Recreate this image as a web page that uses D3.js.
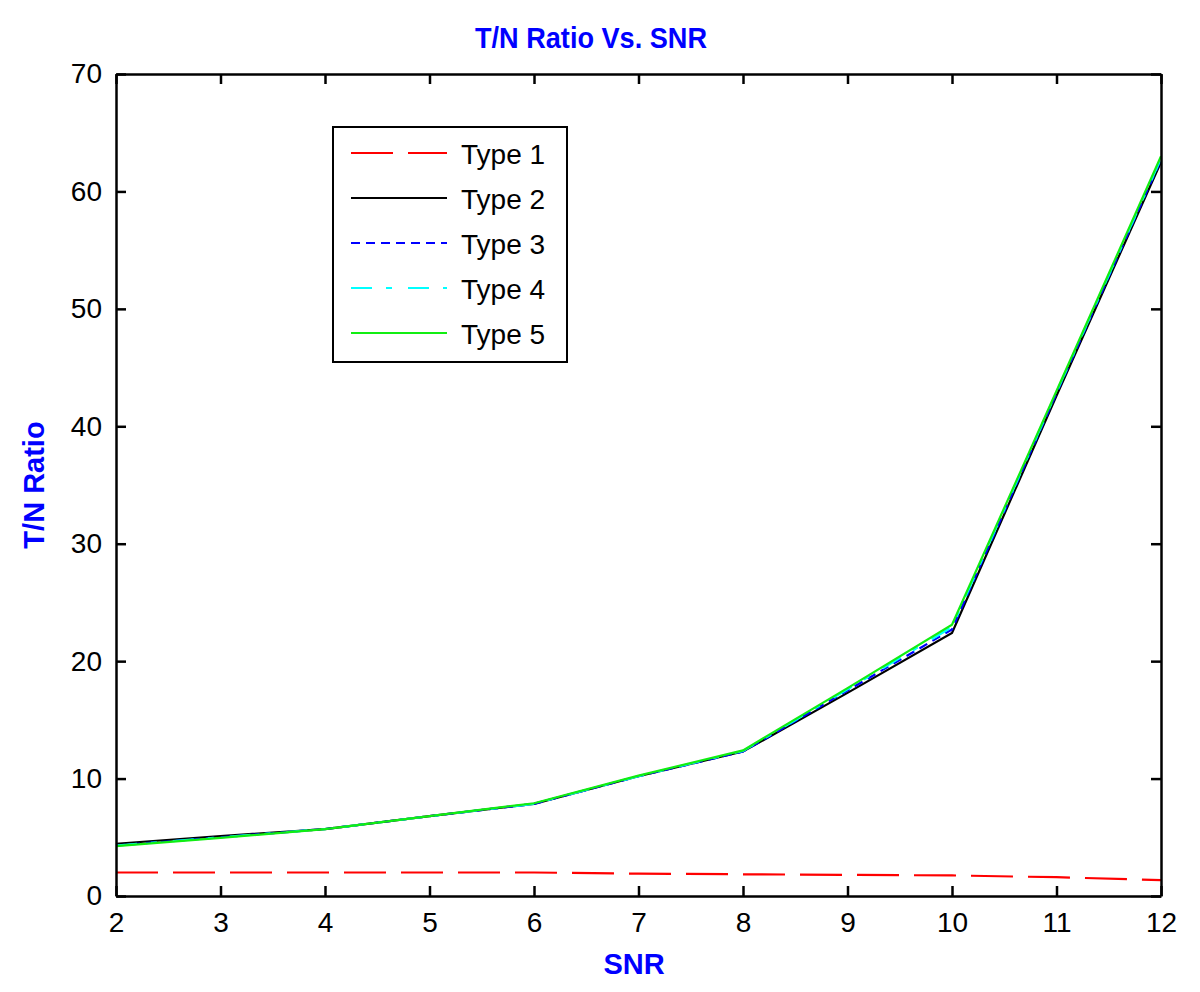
<!DOCTYPE html>
<html>
<head>
<meta charset="utf-8">
<script src="https://cdn.jsdelivr.net/npm/d3@7"></script>
<style>
  body { margin: 0; background: #fff; }
  text { font-family: "Liberation Sans", Arial, sans-serif; }
</style>
</head>
<body>
<svg width="1200" height="992"></svg>
<script>
const snr = [2, 3, 4, 5, 6, 7, 8, 9, 10, 11, 12];
const type1 = [2.0, 2.0, 2.0, 2.0, 2.0, 1.9, 1.85, 1.8, 1.75, 1.6, 1.35];
const type2 = [4.45, 5.1, 5.7, 6.8, 7.85, 10.2, 12.3, 17.3, 22.4, 42.6, 62.5];
const type3 = [4.3, 5.0, 5.7, 6.8, 7.85, 10.2, 12.3, 17.5, 22.7, 42.8, 62.7];
const type4 = [4.3, 5.0, 5.7, 6.8, 7.85, 10.2, 12.35, 17.6, 22.9, 42.9, 62.8];
const type5 = [4.25, 4.95, 5.7, 6.8, 7.9, 10.25, 12.4, 17.7, 23.1, 43.0, 63.0];
const seriesNames = ['Type 1', 'Type 2', 'Type 3', 'Type 4', 'Type 5'];
const xTicks = [2, 3, 4, 5, 6, 7, 8, 9, 10, 11, 12];
const yTicks = [0, 10, 20, 30, 40, 50, 60, 70];

const styles = [
  { color: '#ff0000', dash: '42,15' },
  { color: '#000000', dash: null },
  { color: '#0000ff', dash: '9,6' },
  { color: '#00ffff', dash: '21,14,6,16' },
  { color: '#11ee11', dash: null }
];

const series = [type1, type2, type3, type4, type5].map((vals, i) => ({
  name: seriesNames[i],
  style: styles[i],
  points: snr.map((s, j) => [s, vals[j]])
}));

const margin = { left: 116, right: 39, top: 74, bottom: 96 };
const width = 1200, height = 992;

const x = d3.scaleLinear().domain([2, 12]).range([margin.left, width - margin.right]);
const y = d3.scaleLinear().domain([0, 70]).range([height - margin.bottom, margin.top]);

const svg = d3.select('svg');
svg.append('rect').attr('width', width).attr('height', height).attr('fill', '#fff');

// lines
const line = d3.line().x(d => x(d[0])).y(d => y(d[1]));
svg.append('g')
  .selectAll('path')
  .data(series)
  .enter()
  .append('path')
  .attr('d', d => line(d.points))
  .attr('fill', 'none')
  .attr('stroke', d => d.style.color)
  .attr('stroke-width', 2.2)
  .attr('stroke-dasharray', d => d.style.dash);

// axes (inward ticks, full box)
const styleAxis = (g) => {
  g.select('.domain').attr('stroke-width', 2.5);
  g.selectAll('.tick line').attr('stroke-width', 2.5);
  g.selectAll('.tick text')
    .attr('font-family', '"Liberation Sans", Arial, sans-serif')
    .attr('font-size', 28)
    .attr('fill', '#000');
};

svg.append('g')
  .attr('transform', `translate(0,${y(0)})`)
  .call(d3.axisBottom(x).tickValues(xTicks).tickSizeInner(-10).tickSizeOuter(0).tickPadding(16))
  .call(styleAxis);

svg.append('g')
  .attr('transform', `translate(0,${y(70)})`)
  .call(d3.axisTop(x).tickValues(xTicks).tickSizeInner(-10).tickSizeOuter(0).tickFormat(''))
  .call(styleAxis);

svg.append('g')
  .attr('transform', `translate(${x(2)},0)`)
  .call(d3.axisLeft(y).tickValues(yTicks).tickSizeInner(-10).tickSizeOuter(0).tickPadding(14))
  .call(styleAxis);

svg.append('g')
  .attr('transform', `translate(${x(12)},0)`)
  .call(d3.axisRight(y).tickValues(yTicks).tickSizeInner(-10).tickSizeOuter(0).tickFormat(''))
  .call(styleAxis);

// title and axis labels
svg.append('text')
  .attr('x', 591)
  .attr('y', 48)
  .attr('text-anchor', 'middle')
  .attr('font-size', 29)
  .attr('font-weight', 'bold')
  .attr('fill', '#0000ff')
  .attr('textLength', 232)
  .attr('lengthAdjust', 'spacingAndGlyphs')
  .text('T/N Ratio Vs. SNR');

svg.append('text')
  .attr('x', 634)
  .attr('y', 974)
  .attr('text-anchor', 'middle')
  .attr('font-size', 29)
  .attr('font-weight', 'bold')
  .attr('fill', '#0000ff')
  .text('SNR');

svg.append('text')
  .attr('transform', 'translate(44,485) rotate(-90)')
  .attr('text-anchor', 'middle')
  .attr('font-size', 29)
  .attr('font-weight', 'bold')
  .attr('fill', '#0000ff')
  .text('T/N Ratio');

// legend
const legend = svg.append('g').attr('transform', 'translate(333,127)');
legend.append('rect')
  .attr('width', 234)
  .attr('height', 235)
  .attr('fill', '#fff')
  .attr('stroke', '#000')
  .attr('stroke-width', 2);

const item = legend.selectAll('g.item')
  .data(series)
  .enter()
  .append('g')
  .attr('class', 'item')
  .attr('transform', (d, i) => `translate(0,${26 + i * 45})`);

item.append('line')
  .attr('x1', 18)
  .attr('x2', 114)
  .attr('stroke', d => d.style.color)
  .attr('stroke-width', 2.2)
  .attr('stroke-dasharray', d => d.style.dash);

item.append('text')
  .attr('x', 128)
  .attr('y', 11)
  .attr('font-size', 28)
  .attr('fill', '#000')
  .text(d => d.name);
</script>
</body>
</html>
